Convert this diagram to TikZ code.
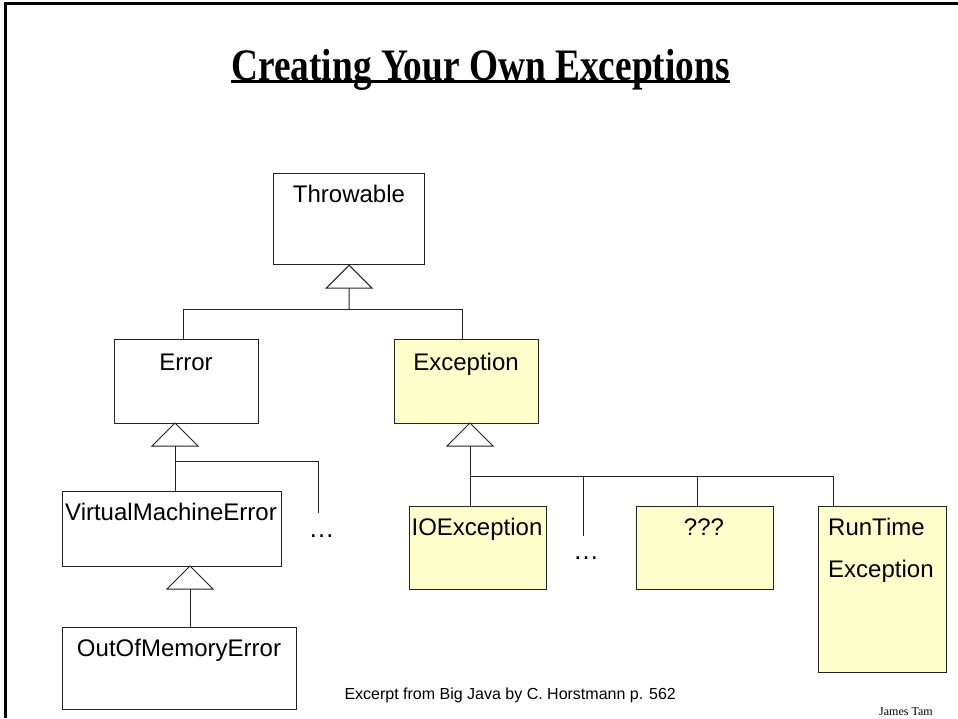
\documentclass[tikz,border=0pt]{standalone}
\usepackage{fontspec}
\setmainfont{Liberation Sans}
\newfontfamily\timesfont{Liberation Serif}
\usetikzlibrary{calc}
\definecolor{boxyellow}{HTML}{FFFFCC}
\definecolor{linegray}{HTML}{222222}
\begin{document}
\begin{tikzpicture}[x=1pt,y=-1pt,
  box/.style={draw=linegray, line width=1.2pt, fill=white, anchor=north west, inner sep=0pt},
  ybox/.style={box, fill=boxyellow},
  lbl/.style={font=\fontsize{24}{28}\selectfont, inner sep=0pt, anchor=base},
  conn/.style={draw=linegray, line width=1pt},
  tri/.style={draw=linegray, line width=1pt, fill=white, line join=miter}]
\useasboundingbox[fill=white] (0,0) rectangle (958,718);
% frame
\draw[line width=3pt] (5.5,718) -- (5.5,3.2) -- (958,3.2);
% title
\node[inner sep=0pt, anchor=base, font=\timesfont\bfseries\fontsize{45}{50}\selectfont] (title) at (480.5,80) {\scalebox{0.83}[1]{Creating Your Own Exceptions}};
\draw[line width=3.5pt] (title.west |- 0,81.5) -- (title.east |- 0,81.5);
% boxes
\node[box, minimum width=151pt, minimum height=91pt] (thr) at (273,173) {};
\node[box, minimum width=144pt, minimum height=84pt] (err) at (114,339) {};
\node[ybox, minimum width=144pt, minimum height=84pt] (exc) at (394,339) {};
\node[box, minimum width=219pt, minimum height=75pt] (vme) at (62,491) {};
\node[box, minimum width=234pt, minimum height=82pt] (oom) at (62,627) {};
\node[ybox, minimum width=137pt, minimum height=83pt] (ioe) at (409,506) {};
\node[ybox, minimum width=137pt, minimum height=83pt] (qqq) at (636,506) {};
\node[ybox, minimum width=128pt, minimum height=166pt] (rte) at (818,506) {};
% labels
\node[lbl] (thrT) at (349,202) {Throwable};
\node[lbl] (errT) at (186,370) {Error};
\node[lbl] (excT) at (466,370) {Exception};
\node[lbl] (vmeT) at (171,520) {VirtualMachineError};
\node[lbl] (oomT) at (179,656.5) {OutOfMemoryError};
\node[lbl] (ioeT) at (477,535) {IOException};
\node[lbl] (qqqT) at (704,535) {???};
\node[lbl, anchor=base west] (rteT1) at (828,535) {RunTime};
\node[lbl, anchor=base west] (rteT2) at (828,577.5) {Exception};
\node[lbl, font=\fontsize{26}{30}\selectfont] (dots1) at (321.7,537) {…};
\node[lbl, font=\fontsize{26}{30}\selectfont] (dots2) at (586,559.5) {…};
\node[inner sep=0pt, anchor=base west, font=\fontsize{16}{19}\selectfont] (src) at (344.3,699) {Excerpt from Big Java by C. Horstmann p. 562};
\node[inner sep=0pt, anchor=base west, font=\timesfont\fontsize{12}{14}\selectfont] (auth) at (879,715) {James Tam};
% Throwable generalisation
\coordinate (thrA) at (thr.south);
\coordinate (thrB) at ($(thrA)+(0,23)$);
\coordinate (thrJ) at (349,309);
\coordinate (eL) at (183,309);
\coordinate (eR) at (462,309);
\draw[conn] (thrB) -- (thrJ);
\draw[conn] (err.north -| eL) -- (eL) -- (eR) -- (exc.north -| eR);
\draw[tri] (thrA) -- ++(-23,23) -- ++(46,0) -- cycle;
% Error generalisation
\coordinate (errA) at (175,423);
\coordinate (errB) at ($(errA)+(0,23)$);
\coordinate (errJ) at (175,461);
\coordinate (errD) at (318,513);
\draw[conn] (errB) -- (vme.north -| errA);
\draw[conn] (errJ) -| (errD);
\draw[tri] (errA) -- ++(-23,23) -- ++(46,0) -- cycle;
% VirtualMachineError generalisation
\coordinate (vmeA) at (190,566);
\coordinate (vmeB) at ($(vmeA)+(0,23)$);
\draw[conn] (vmeB) -- (oom.north -| vmeA);
\draw[tri] (vmeA) -- ++(-23,23) -- ++(46,0) -- cycle;
% Exception generalisation
\coordinate (excA) at (470,423);
\coordinate (excB) at ($(excA)+(0,23)$);
\coordinate (excJ) at (470,476);
\coordinate (dotC) at (583,476);
\coordinate (dotE) at (583,536);
\coordinate (qC) at (697,476);
\coordinate (rteC) at (833,476);
\draw[conn] (excB) -- (ioe.north -| excA);
\draw[conn] (excJ) -- (rteC) -- (rte.north -| rteC);
\draw[conn] (qC) -- (qqq.north -| qC);
\draw[conn] (dotC) -- (dotE);
\draw[tri] (excA) -- ++(-23,23) -- ++(46,0) -- cycle;
\end{tikzpicture}
\end{document}
